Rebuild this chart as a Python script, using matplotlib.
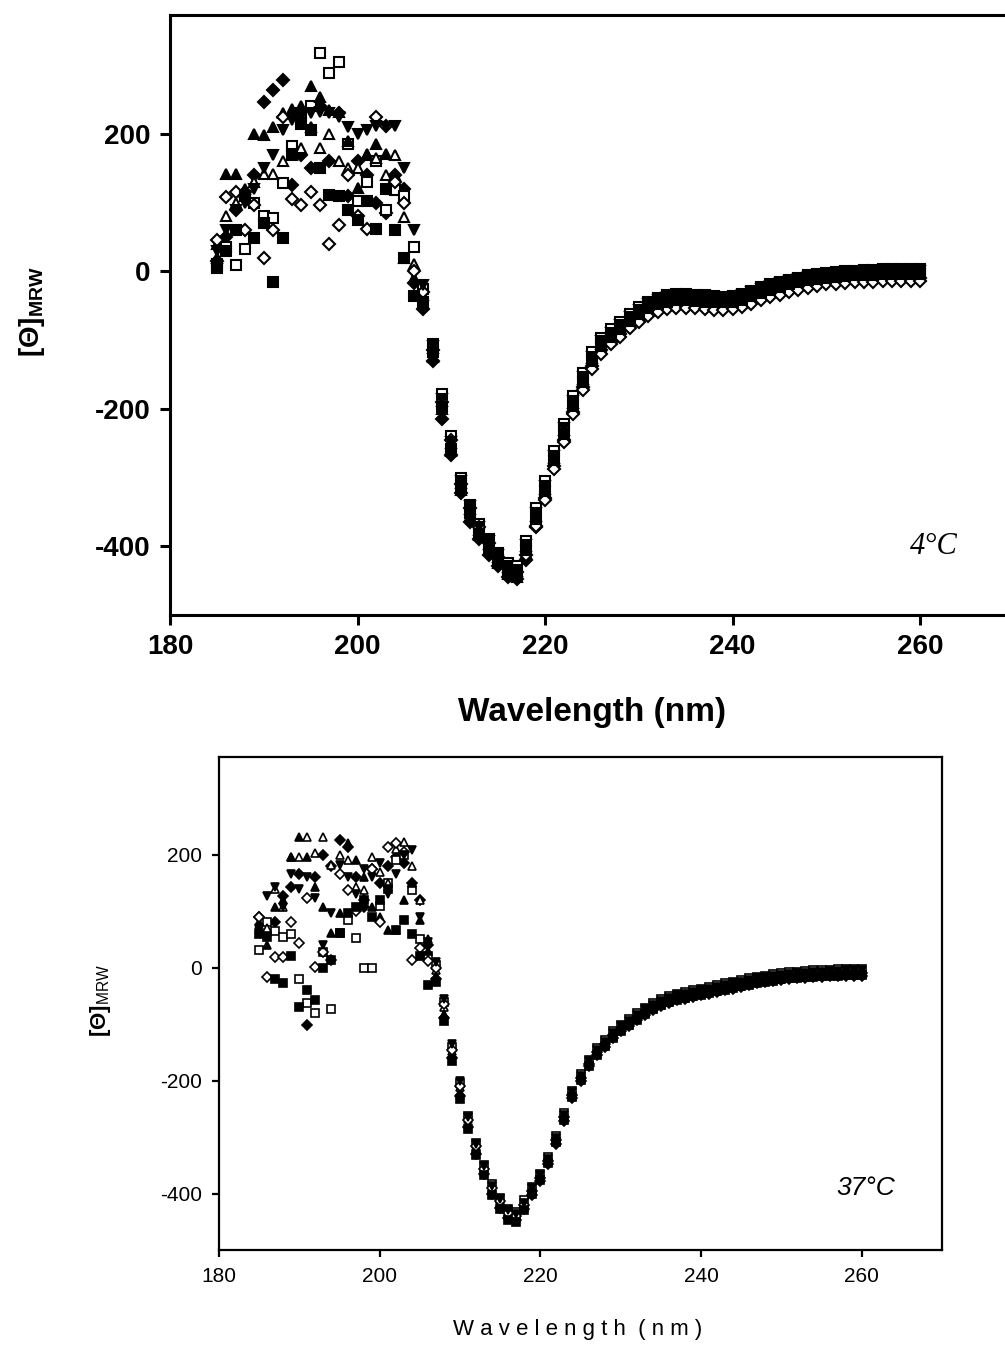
import numpy as np
import matplotlib
matplotlib.use("Agg")
import matplotlib.pyplot as plt

plt.rcParams['font.family'] = ['Liberation Sans', 'DejaVu Sans']
plt.rcParams['mathtext.fontset'] = 'custom'
plt.rcParams['mathtext.rm'] = 'Liberation Sans'
plt.rcParams['mathtext.bf'] = 'Liberation Sans:bold'
plt.rcParams['axes.unicode_minus'] = False

wavelength = np.arange(185, 261)

# ---------------- 4 C panel ----------------
t4_filled_diamond = [15, 50, 90, 115, 140, 246, 264, 278, 125, 170, 150, 240, 160, 230, 110, 160, 140, 100, 85, 140, 120, -17,
                     -55, -130, -215, -267, -323, -365, -390, -412, -428, -445,
                     -448, -420, -372, -330, -283, -245, -204, -168, -138, -115,
                     -103, -91, -78, -69, -60, -54, -49, -48, -47, -49,
                     -49, -51, -50, -50, -46, -42, -36, -33, -28, -25,
                     -21, -19, -16, -15, -13, -13, -11, -11, -10, -10,
                     -9, -10, -9, -10]
t4_open_square = [10, 35, 9, 33, 99, 80, 77, 128, 183, 230, 240, 317, 288, 304, 186, 103, 130, 160, 90, 118, 110, 35,
                  -25, -105, -178, -240, -300, -340, -368, -390, -410, -425,
                  -428, -392, -345, -305, -262, -222, -182, -148, -118, -97,
                  -84, -73, -62, -52, -45, -39, -35, -33, -33, -34,
                  -35, -36, -37, -36, -33, -28, -23, -19, -15, -12,
                  -9, -6, -4, -2, -1, 0, 1, 2, 2, 3,
                  3, 3, 4, 4]
t4_open_triangle = [40, 81, 100, 115, 130, 142, 142, 160, 170, 180, 210, 180, 200, 161, 150, 151, 170, 165, 140, 170, 79, 10,
                    -35, -112, -188, -250, -308, -346, -376, -396, -416, -430,
                    -436, -400, -356, -316, -272, -231, -192, -157, -126, -105,
                    -92, -81, -69, -59, -51, -45, -41, -39, -39, -40,
                    -41, -42, -42, -41, -38, -33, -28, -24, -20, -16,
                    -13, -10, -8, -6, -5, -4, -3, -2, -2, -1,
                    -1, -1, -1, -1]
t4_filled_triangle = [20, 142, 142, 120, 200, 198, 210, 230, 236, 240, 270, 254, 235, 232, 190, 122, 171, 185, 171, 140, 19, -10,
                      -48, -125, -200, -262, -318, -356, -384, -405, -424, -440,
                      -444, -410, -364, -323, -279, -238, -198, -163, -133, -111,
                      -98, -87, -75, -65, -57, -51, -47, -45, -45, -46,
                      -47, -48, -48, -47, -44, -39, -34, -30, -26, -22,
                      -19, -16, -14, -12, -11, -10, -9, -8, -8, -7,
                      -7, -7, -7, -7]
t4_open_diamond = [45, 108, 115, 60, 96, 19, 60, 224, 106, 96, 115, 96, 40, 67, 140, 80, 62, 224, 212, 130, 100, 0,
                   -30, -115, -190, -245, -310, -345, -372, -395, -415, -432,
                   -438, -412, -370, -332, -288, -248, -208, -172, -142, -120,
                   -106, -95, -83, -73, -65, -59, -55, -53, -53, -54,
                   -55, -56, -56, -55, -52, -47, -42, -38, -34, -30,
                   -27, -24, -21, -19, -18, -17, -16, -15, -15, -14,
                   -14, -14, -14, -14]
t4_filled_square = [5, 30, 60, 110, 48, 70, -16, 48, 171, 215, 205, 150, 111, 110, 89, 74, 103, 62, 120, 60, 20, -36,
                    -45, -118, -198, -258, -312, -352, -382, -402, -420, -436,
                    -442, -406, -360, -320, -275, -236, -196, -161, -131, -108,
                    -95, -84, -72, -62, -54, -48, -44, -42, -42, -43,
                    -44, -45, -45, -44, -41, -36, -31, -27, -23, -19,
                    -16, -13, -11, -9, -8, -7, -6, -5, -5, -4,
                    -4, -4, -4, -4]
t4_filled_down = [30, 60, 90, 100, 120, 150, 170, 205, 220, 225, 230, 232, 230, 225, 210, 200, 205, 212, 210, 212, 150, 60,
                  -20, -108, -185, -248, -305, -342, -372, -393, -413, -428,
                  -434, -398, -352, -312, -268, -228, -189, -154, -124, -102,
                  -89, -78, -66, -56, -48, -42, -38, -36, -36, -37,
                  -38, -39, -39, -38, -35, -30, -25, -21, -17, -14,
                  -11, -8, -6, -4, -3, -2, -1, 0, 0, 1,
                  1, 1, 1, 1]

# ---------------- 37 C panel ----------------
t37_filled_diamond = [90, 60, 80, 126, 143, 165, -101, 161, 200, 180, 226, 214, 161, 108, 175, 150, 180, 196, 185, 150, 120, 40,
                      -20, -90, -160, -228, -282, -330, -366, -400, -425, -443,
                      -447, -428, -402, -378, -348, -312, -271, -231, -200, -175,
                      -155, -140, -125, -113, -103, -93, -83, -75, -68, -62,
                      -58, -55, -52, -49, -46, -43, -40, -37, -34, -31,
                      -28, -26, -24, -22, -20, -19, -18, -17, -16, -15,
                      -15, -14, -14, -14]
t37_open_square = [32, 80, 65, 55, 60, -21, -62, -80, 28, -74, 62, 85, 53, 0, 0, 110, 150, 190, 200, 138, 50, 20,
                   5, -60, -140, -205, -262, -310, -350, -384, -408, -428,
                   -432, -412, -388, -365, -335, -298, -258, -218, -188, -163,
                   -143, -128, -113, -101, -91, -81, -71, -63, -56, -50,
                   -46, -43, -40, -37, -34, -31, -28, -25, -22, -19,
                   -16, -14, -12, -10, -8, -7, -6, -5, -4, -4,
                   -3, -3, -3, -3]
t37_open_triangle = [75, 70, 140, 108, 196, 196, 232, 203, 232, 182, 200, 191, 143, 138, 196, 170, 150, 210, 223, 180, 120, 50,
                     -5, -70, -148, -212, -268, -315, -355, -389, -412, -432,
                     -437, -417, -392, -369, -339, -302, -262, -222, -192, -167,
                     -147, -132, -117, -105, -95, -85, -75, -67, -60, -54,
                     -50, -47, -44, -41, -38, -35, -32, -29, -26, -23,
                     -20, -18, -16, -14, -12, -11, -10, -9, -8, -7,
                     -7, -6, -6, -6]
t37_filled_triangle = [80, 40, 108, 120, 196, 232, 196, 143, 108, 62, 97, 220, 190, 161, 108, 90, 67, 67, 120, 150, 85, 30,
                       -15, -82, -155, -220, -276, -322, -362, -396, -420, -440,
                       -444, -424, -398, -375, -345, -308, -268, -228, -198, -173,
                       -153, -138, -123, -111, -101, -91, -81, -73, -66, -60,
                       -56, -53, -50, -47, -44, -41, -38, -35, -32, -29,
                       -26, -24, -22, -20, -18, -17, -16, -15, -14, -13,
                       -13, -12, -12, -12]
t37_open_diamond = [90, -16, 19, 19, 80, 44, 124, 2, 28, 14, 165, 138, 100, 120, 175, 80, 214, 220, 205, 14, 35, 11,
                    0, -65, -145, -210, -270, -316, -356, -390, -414, -434,
                    -440, -420, -395, -372, -342, -305, -265, -225, -195, -170,
                    -150, -135, -120, -108, -98, -88, -78, -70, -63, -57,
                    -53, -50, -47, -44, -41, -38, -35, -32, -29, -26,
                    -23, -21, -19, -17, -15, -14, -13, -12, -11, -10,
                    -10, -9, -9, -9]
t37_filled_square = [60, 55, -21, -27, 20, -69, -39, -57, 0, 14, 62, 97, 108, 120, 90, 120, 140, 67, 85, 60, 20, -30,
                     -25, -95, -165, -232, -285, -332, -368, -402, -428, -446,
                     -450, -430, -400, -376, -346, -309, -269, -229, -199, -174,
                     -154, -139, -124, -112, -102, -92, -82, -74, -67, -61,
                     -57, -54, -51, -48, -45, -42, -39, -36, -33, -30,
                     -27, -25, -23, -21, -19, -18, -17, -16, -15, -14,
                     -14, -13, -13, -13]
t37_filled_down = [70, 126, 143, 108, 165, 140, 161, 124, 40, 97, 182, 161, 130, 175, 160, 185, 130, 165, 200, 209, 90, 45,
                   10, -55, -135, -200, -265, -312, -352, -386, -410, -430,
                   -436, -416, -391, -368, -338, -301, -261, -221, -191, -166,
                   -146, -131, -116, -104, -94, -84, -74, -66, -59, -53,
                   -49, -46, -43, -40, -37, -34, -31, -28, -25, -22,
                   -19, -17, -15, -13, -11, -10, -9, -8, -7, -6,
                   -6, -5, -5, -5]

x_ticks = [180, 200, 220, 240, 260]
y_ticks = [-400, -200, 0, 200]

styles = [  # (marker, filled)
    ('D', True), ('s', False), ('^', False), ('^', True), ('D', False), ('s', True), ('v', True)
]
series4 = [t4_filled_diamond, t4_open_square, t4_open_triangle, t4_filled_triangle,
           t4_open_diamond, t4_filled_square, t4_filled_down]
series37 = [t37_filled_diamond, t37_open_square, t37_open_triangle, t37_filled_triangle,
            t37_open_diamond, t37_filled_square, t37_filled_down]

W, H = 1005, 1345
fig = plt.figure(figsize=(W / 100, H / 100), dpi=100)

# top axes (extends past right edge like the reference crop)
ax1 = fig.add_axes([170 / W, 1 - 615 / H, 844 / W, 600 / H])
ax2 = fig.add_axes([219 / W, 1 - 1250 / H, 723 / W, 493 / H])


def draw(ax, series, ms, mew):
    for (m, filled), ys in zip(styles, series):
        msz = ms * (0.85 if m == 'D' else 1.0)
        ax.plot(wavelength, ys, linestyle='none', marker=m, markersize=msz,
                markerfacecolor='black' if filled else 'white',
                markeredgecolor='black', markeredgewidth=mew)
    ax.set_xlim(180, 270)
    ax.set_ylim(-500, 373)
    ax.set_xticks(x_ticks)
    ax.set_yticks(y_ticks)


draw(ax1, series4, 6.8, 1.5)
draw(ax2, series37, 5.6, 1.2)

for sp in ax1.spines.values():
    sp.set_linewidth(2.2)
ax1.tick_params(direction='out', length=7, width=2.2, labelsize=20, pad=7)
for lab in ax1.get_xticklabels() + ax1.get_yticklabels():
    lab.set_fontweight('bold')
ax1.text(261.5, -400, '4°C', fontsize=22, family='Liberation Serif', style='italic',
         ha='center', va='center')

for sp in ax2.spines.values():
    sp.set_linewidth(1.6)
ax2.tick_params(direction='out', length=5, width=1.6, labelsize=15, pad=7)
ax2.text(260.5, -390, '37°C', fontsize=19, family='Liberation Sans', style='italic',
         ha='center', va='center')

fig.text(592 / W, 1 - 712 / H, 'Wavelength (nm)', fontsize=24, fontweight='bold',
         ha='center', va='center')
fig.text(32 / W, 1 - 312 / H, r'[Θ]$_{\mathbf{MRW}}$', fontsize=20, fontweight='bold',
         rotation=90, ha='center', va='center')

fig.text(578 / W, 1 - 1330 / H, 'W a v e l e n g t h  ( n m )', fontsize=16,
         ha='center', va='center')
fig.text(100 / W, 1 - 1000 / H, r'[Θ]$_{\mathrm{MRW}}$', fontsize=16, fontweight='bold',
         rotation=90, ha='center', va='center')

fig.savefig('out.png', dpi=100)
